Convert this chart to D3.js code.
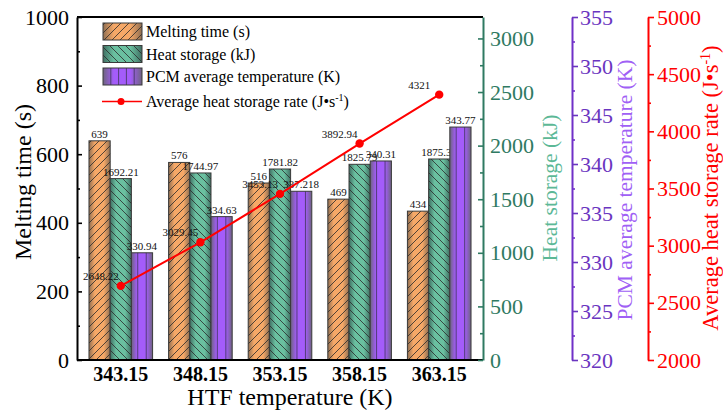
<!DOCTYPE html>
<html>
<head>
<meta charset="utf-8">
<script src="https://cdn.jsdelivr.net/npm/d3@7"></script>
<style>
  body { margin: 0; background: #fff; }
  svg { font-family: 'Liberation Serif', 'Times New Roman', serif; }
</style>
</head>
<body>
<svg id="chart" width="723" height="415"></svg>
<script>
// data
const categories = ["343.15", "348.15", "353.15", "358.15", "363.15"];
const meltingTime = [639, 576, 516, 469, 434];
const heatStorage = [1692.21, 1744.97, 1781.82, 1825.79, 1875.32];
const pcmTemp = [330.94, 334.63, 337.218, 340.31, 343.77];
const storageRate = [2648.22, 3029.45, 3453.13, 3892.94, 4321];

const leftTicks = [0, 200, 400, 600, 800, 1000];
const greenTicks = [0, 500, 1000, 1500, 2000, 2500, 3000];
const purpleTicks = [320, 325, 330, 335, 340, 345, 350, 355];
const redTicks = [2000, 2500, 3000, 3500, 4000, 4500, 5000];

const svg = d3.select("#chart");
const pLeft = 77, pRight = 483, pTop = 17, pBottom = 360;
const fmt = d3.format("d");

const x = d3.scalePoint().domain(categories).range([pLeft, pRight]).padding(0.55);
const yL = d3.scaleLinear().domain([0, 1000]).range([pBottom, pTop]);
const yG = d3.scaleLinear().domain([0, 3200]).range([pBottom, pTop]);
const yP = d3.scaleLinear().domain([320, 355]).range([pBottom, pTop]);
const yR = d3.scaleLinear().domain([2000, 5000]).range([pBottom, pTop]);
const sub = d3.scaleBand().domain(["m", "h", "p"]).range([-31.8, 31.8]);

// gradients + hatches
const defs = svg.append("defs");
function grad(id, edge, mid) {
  const g = defs.append("linearGradient").attr("id", id).attr("x1", 0).attr("x2", 1).attr("y1", 0).attr("y2", 0);
  g.append("stop").attr("offset", "0%").attr("stop-color", edge);
  g.append("stop").attr("offset", "28%").attr("stop-color", mid);
  g.append("stop").attr("offset", "70%").attr("stop-color", mid);
  g.append("stop").attr("offset", "100%").attr("stop-color", edge);
}
grad("gOrange", "#8e6e52", "#f6a867");
grad("gGreen", "#3f6e62", "#6ac0a0");
grad("gPurple", "#6e6480", "#a45cfa");

function hatch(id, dir) {
  const p = defs.append("pattern").attr("id", id).attr("patternUnits", "userSpaceOnUse")
    .attr("width", 8).attr("height", 8);
  p.append("path")
    .attr("d", dir > 0 ? "M-2,2 L2,-2 M0,8 L8,0 M6,10 L10,6" : "M-2,6 L2,10 M0,0 L8,8 M6,-2 L10,2")
    .attr("stroke", "#2a2a2a").attr("stroke-width", 0.8);
}
hatch("hOrange", 1);
hatch("hGreen", -1);

const seriesDefs = [
  { key: "m", vals: meltingTime, y: yL, fill: "url(#gOrange)", hatch: "url(#hOrange)" },
  { key: "h", vals: heatStorage, y: yG, fill: "url(#gGreen)", hatch: "url(#hGreen)" },
  { key: "p", vals: pcmTemp, y: yP, fill: "url(#gPurple)", hatch: null }
];

const bw = sub.bandwidth();
seriesDefs.forEach(s => {
  const g = svg.append("g");
  categories.forEach((c, i) => {
    const bx = x(c) + sub(s.key);
    const by = s.y(s.vals[i]);
    const h = pBottom - by;
    g.append("rect").attr("x", bx).attr("y", by).attr("width", bw).attr("height", h).attr("fill", s.fill);
    if (s.hatch) {
      g.append("rect").attr("x", bx).attr("y", by).attr("width", bw).attr("height", h).attr("fill", s.hatch);
    } else {
      [0.3, 0.7].forEach(f => {
        g.append("line").attr("x1", bx + bw * f).attr("x2", bx + bw * f)
          .attr("y1", by).attr("y2", pBottom).attr("stroke", "#4a3a6a").attr("stroke-width", 0.9);
      });
    }
    g.append("rect").attr("x", bx).attr("y", by).attr("width", bw).attr("height", h)
      .attr("fill", "none").attr("stroke", "#3a3a3a").attr("stroke-width", 1);
    g.append("text").attr("x", bx + bw / 2).attr("y", by - 3)
      .attr("text-anchor", "middle").attr("font-size", 11).attr("fill", "#111")
      .text(s.vals[i]);
  });
});

// red line
const line = d3.line().x((d, i) => x(categories[i])).y(d => yR(d));
svg.append("path").datum(storageRate).attr("d", line)
  .attr("fill", "none").attr("stroke", "#ff0000").attr("stroke-width", 2);
svg.selectAll(".dot").data(storageRate).enter().append("circle")
  .attr("cx", (d, i) => x(categories[i])).attr("cy", d => yR(d)).attr("r", 4.2).attr("fill", "#ff0000");
svg.selectAll(".rlab").data(storageRate).enter().append("text")
  .attr("x", (d, i) => x(categories[i]) - 20).attr("y", d => yR(d) - 6)
  .attr("text-anchor", "middle").attr("font-size", 11).attr("fill", "#111")
  .text(d => d);

// axes
function styleAxis(g, color, fs) {
  g.select(".domain").attr("stroke", color).attr("stroke-width", 2);
  g.selectAll(".tick line").attr("stroke", color).attr("stroke-width", 1.6);
  g.selectAll(".tick text").attr("fill", color).attr("font-size", fs)
    .attr("font-family", "'Liberation Serif', serif");
}
function minor(scale, vals, side, at, size, color) {
  const ax = (side === "left" ? d3.axisLeft(scale) : d3.axisRight(scale))
    .tickValues(vals).tickSize(size).tickFormat("");
  const g = svg.append("g").attr("transform", `translate(${at},0)`).call(ax);
  g.select(".domain").remove();
  g.selectAll(".tick line").attr("stroke", color).attr("stroke-width", 1.6);
}

// left axis
const gl = svg.append("g").attr("transform", `translate(${pLeft},0)`)
  .call(d3.axisLeft(yL).tickValues(leftTicks).tickFormat(fmt).tickSizeInner(-5).tickSizeOuter(0).tickPadding(8));
styleAxis(gl, "#000", 22);
minor(yL, [100, 300, 500, 700, 900], "left", pLeft, -3, "#000");

// top frame & bottom axis
svg.append("line").attr("x1", pLeft).attr("x2", pRight).attr("y1", pTop).attr("y2", pTop)
  .attr("stroke", "#000").attr("stroke-width", 2);
svg.append("line").attr("x1", pLeft).attr("x2", pRight).attr("y1", pBottom).attr("y2", pBottom)
  .attr("stroke", "#000").attr("stroke-width", 2);
svg.append("g").selectAll("text").data(categories).enter().append("text")
  .attr("x", d => x(d)).attr("y", 381).attr("text-anchor", "middle")
  .attr("font-size", 20).attr("font-weight", "bold").attr("fill", "#000").text(d => d);

// green axis
const gg = svg.append("g").attr("transform", `translate(${pRight},0)`)
  .call(d3.axisRight(yG).tickValues(greenTicks).tickFormat(fmt).tickSizeInner(-5).tickSizeOuter(0).tickPadding(7));
styleAxis(gg, "#2f7a62", 22);
minor(yG, [250, 750, 1250, 1750, 2250, 2750], "right", pRight, -3, "#2f7a62");

// purple axis
const px = 572;
const gp = svg.append("g").attr("transform", `translate(${px},0)`)
  .call(d3.axisRight(yP).tickValues(purpleTicks).tickFormat(fmt).tickSizeInner(6).tickSizeOuter(0).tickPadding(2));
styleAxis(gp, "#6a35c0", 22);
gp.select(".domain").attr("stroke", "#7030c8");
minor(yP, [322.5, 327.5, 332.5, 337.5, 342.5, 347.5, 352.5], "right", px, 3, "#7030c8");

// red axis
const rx = 648;
const gr = svg.append("g").attr("transform", `translate(${rx},0)`)
  .call(d3.axisRight(yR).tickValues(redTicks).tickFormat(fmt).tickSizeInner(6).tickSizeOuter(0).tickPadding(3));
styleAxis(gr, "#ff0000", 22);
minor(yR, [2250, 2750, 3250, 3750, 4250, 4750], "right", rx, 3, "#ff0000");

// axis titles
function vTitle(xb, yc, color, size, build) {
  const t = svg.append("text").attr("transform", `translate(${xb},${yc}) rotate(-90)`)
    .attr("text-anchor", "middle").attr("font-size", size).attr("fill", color);
  build(t);
}
vTitle(31, 182, "#000", 24, t => t.text("Melting time (s)"));
vTitle(557, 188, "#5cb896", 21.5, t => t.text("Heat storage (kJ)"));
vTitle(632, 190, "#a060f5", 21.5, t => t.text("PCM average temperature (K)"));
vTitle(718, 188, "#ff0000", 22.5, t => {
  t.append("tspan").text("Average heat storage rate (J\u2022s");
  t.append("tspan").attr("dy", -8).attr("font-size", 14).text("-1");
  t.append("tspan").attr("dy", 8).text(")");
});
svg.append("text").attr("x", 290).attr("y", 405).attr("text-anchor", "middle")
  .attr("font-size", 24).attr("fill", "#000").text("HTF temperature (K)");

// legend
const lx = 103, lw = 39, lh = 17;
const legendRows = [
  { y: 23, fill: "url(#gOrange)", hatch: "url(#hOrange)", label: "Melting time (s)" },
  { y: 45.5, fill: "url(#gGreen)", hatch: "url(#hGreen)", label: "Heat storage (kJ)" },
  { y: 68, fill: "url(#gPurple)", hatch: null, label: "PCM average temperature (K)" }
];
const lg = svg.append("g");
legendRows.forEach(r => {
  lg.append("rect").attr("x", lx).attr("y", r.y).attr("width", lw).attr("height", lh).attr("fill", r.fill);
  if (r.hatch) {
    lg.append("rect").attr("x", lx).attr("y", r.y).attr("width", lw).attr("height", lh).attr("fill", r.hatch);
  } else {
    [0.2, 0.4, 0.6, 0.8].forEach(f => lg.append("line")
      .attr("x1", lx + lw * f).attr("x2", lx + lw * f).attr("y1", r.y).attr("y2", r.y + lh)
      .attr("stroke", "#4a3a6a").attr("stroke-width", 0.9));
  }
  lg.append("rect").attr("x", lx).attr("y", r.y).attr("width", lw).attr("height", lh)
    .attr("fill", "none").attr("stroke", "#3a3a3a").attr("stroke-width", 1);
  lg.append("text").attr("x", 146).attr("y", r.y + 14).attr("font-size", 16).attr("fill", "#000").text(r.label);
});
lg.append("line").attr("x1", 102).attr("x2", 142).attr("y1", 101.5).attr("y2", 101.5)
  .attr("stroke", "#ff0000").attr("stroke-width", 1.6);
lg.append("circle").attr("cx", 121).attr("cy", 101.5).attr("r", 3.5).attr("fill", "#ff0000");
const lt = lg.append("text").attr("x", 146).attr("y", 107).attr("font-size", 16).attr("fill", "#000");
lt.append("tspan").text("Average heat storage rate (J\u2022s");
lt.append("tspan").attr("dy", -6).attr("font-size", 10).text("-1");
lt.append("tspan").attr("dy", 6).text(")");
</script>
</body>
</html>
